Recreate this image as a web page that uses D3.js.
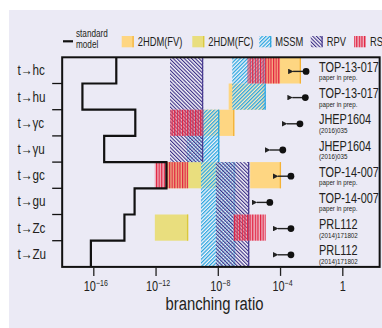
<!DOCTYPE html>
<html>
<head>
<meta charset="utf-8">
<script src="https://cdn.jsdelivr.net/npm/d3@7"></script>
<style>
  html, body { margin: 0; padding: 0; background: #ffffff; }
  svg { display: block; }
  text { font-family: "Liberation Sans", Arial, sans-serif; fill: #231f20; }
</style>
</head>
<body>
<svg id="chart" width="382" height="328"></svg>
<script>
// Top-quark FCNC decay channels
const channels = ["t\u2192hc", "t\u2192hu", "t\u2192\u03b3c", "t\u2192\u03b3u", "t\u2192gc", "t\u2192gu", "t\u2192Zc", "t\u2192Zu"];

// Standard-model branching ratios
const smValues = [3e-15, 2e-17, 5e-14, 5e-16, 5e-12, 4.5e-14, 1e-14, 7e-17];

// Model ranges (low / high edge), null where a model gives no prediction
const fvLow   = [1.2e-5, 5e-8, 1.2e-9, null, 1.2e-6, null, null, null];
const fvHigh  = [2.2e-3, 9e-6, 1.15e-7, null, 1.15e-4, null, null, null];
const fcLow   = [null, null, null, null, 5e-12, null, 9e-13, null];
const fcHigh  = [null, null, null, null, 1.2e-8, null, 1.25e-10, null];
const mssmLow  = [8.5e-8, 8.5e-8, 1e-10, 1e-10, 8.3e-10, 8.3e-10, 8.3e-10, 8.3e-10];
const mssmHigh = [1.2e-5, 1.2e-5, 1.25e-8, 1.25e-8, 1.3e-7, 1.3e-7, 1.3e-7, 1.3e-7];
const rpvLow  = [8.5e-12, 8.5e-12, 8.5e-12, 8.5e-12, 7.6e-9, 7.6e-9, 7.6e-9, 7.6e-9];
const rpvHigh = [1.15e-9, 1.15e-9, 1.15e-9, 1.15e-9, 1.05e-6, 1.05e-6, 1.05e-6, 1.05e-6];
const rsLow   = [8.3e-7, null, 8.5e-12, null, 9e-13, null, 1e-7, null];
const rsHigh  = [1e-4, null, 1.15e-9, null, 1.25e-10, null, 1.2e-5, null];

// Experimental upper limits
const limits = [4.7e-3, 4.2e-3, 1.9e-3, 1.5e-4, 5e-4, 2.2e-5, 5e-4, 5e-4];
const refMain = ["TOP-13-017", "TOP-13-017", "JHEP1604", "JHEP1604", "TOP-14-007", "TOP-14-007", "PRL112", "PRL112"];
const refSub  = ["paper in prep.", "paper in prep.", "(2016)035", "(2016)035", "paper in prep.", "paper in prep.", "(2014)171802", "(2014)171802"];

// Axis ticks and legend
const xTicks = [1e-16, 1e-12, 1e-8, 1e-4, 1];
const legendNames = ["2HDM(FV)", "2HDM(FC)", "MSSM", "RPV", "RS"];

const NARROW = 0.78;   // horizontal squeeze giving a condensed typeface
const svg = d3.select("#chart");

// text in the condensed face, placed at (x, y)
function ntext(parent, x, y, str, size, anchor) {
  return parent.append("text")
    .attr("transform", `translate(${x},${y}) scale(${NARROW},1)`)
    .attr("font-size", size)
    .attr("text-anchor", anchor || "start")
    .text(str);
}

// panel background
svg.append("rect").attr("x", 9).attr("y", 10).attr("width", 373).attr("height", 318).attr("fill", "#ebeaf5");

const x = d3.scaleLog().domain([1e-16, 1]).range([93.3, 342.3]);
const y = d3.scaleBand().domain(channels).range([57.3, 266.9]).paddingInner(0).paddingOuter(0);
const xLeft = x(1e-18), xRight = x(Math.pow(10, 2.4));

// fill patterns
const defs = svg.append("defs");
function stripes(id, color, bg, angle, period, lw) {
  const p = defs.append("pattern").attr("id", id)
    .attr("patternUnits", "userSpaceOnUse")
    .attr("width", period).attr("height", period)
    .attr("patternTransform", `rotate(${angle})`);
  p.append("rect").attr("width", period).attr("height", period).attr("fill", bg);
  p.append("rect").attr("width", lw).attr("height", period).attr("fill", color);
}
stripes("pMSSM", "#26a4e0", "rgba(255,255,255,0.5)", 45, 2.6, 1.25);
stripes("pRPV", "#3b2d86", "rgba(255,255,255,0.45)", -45, 2.6, 1.1);
stripes("pRS", "#e2213f", "rgba(240,110,130,0.45)", 0, 2.6, 1.2);

const models = [
  { lo: fvLow,   hi: fvHigh,   fill: "#fed682", edge: "#f4b236" },
  { lo: fcLow,   hi: fcHigh,   fill: "#e9de7e", edge: "#dac83c" },
  { lo: mssmLow, hi: mssmHigh, fill: "url(#pMSSM)", edge: "#2aa3dc" },
  { lo: rpvLow,  hi: rpvHigh,  fill: "url(#pRPV)", edge: "#4a3d92" },
  { lo: rsLow,   hi: rsHigh,   fill: "url(#pRS)", edge: null }
];

const bars = svg.append("g");
models.forEach(m => {
  const data = channels.map((c, i) => ({ c, lo: m.lo[i], hi: m.hi[i] })).filter(d => d.lo != null);
  const g = bars.append("g");
  g.selectAll("rect").data(data).join("rect")
    .attr("x", d => x(d.lo)).attr("width", d => x(d.hi) - x(d.lo))
    .attr("y", d => y(d.c)).attr("height", y.bandwidth())
    .attr("fill", m.fill);
  if (m.edge) {
    g.selectAll("line").data(data).join("line")
      .attr("x1", d => x(d.hi) - 0.6).attr("x2", d => x(d.hi) - 0.6)
      .attr("y1", d => y(d.c)).attr("y2", d => y(d.c) + y.bandwidth())
      .attr("stroke", m.edge).attr("stroke-width", 1.3);
  }
});

// standard model step line
const smPts = [];
channels.forEach((c, i) => {
  smPts.push([x(smValues[i]), y(c)]);
  smPts.push([x(smValues[i]), y(c) + y.bandwidth()]);
});
svg.append("path").attr("d", d3.line()(smPts))
  .attr("fill", "none").attr("stroke", "#111").attr("stroke-width", 2.2);

// frame
svg.append("rect").attr("x", xLeft).attr("y", 57.3).attr("width", xRight - xLeft).attr("height", 266.9 - 57.3)
  .attr("fill", "none").attr("stroke", "#111").attr("stroke-width", 2);

// row separators on the left
svg.append("g").selectAll("line").data(channels.slice(1)).join("line")
  .attr("x1", xLeft - 10).attr("x2", xLeft)
  .attr("y1", d => y(d)).attr("y2", d => y(d))
  .attr("stroke", "#111").attr("stroke-width", 1.3);

// row labels
const rowLab = svg.append("g");
channels.forEach(c => ntext(rowLab, 17.5, y(c) + y.bandwidth() / 2 + 5, c, 15));

// experimental limits
const lim = svg.append("g");
defs.append("marker").attr("id", "ah").attr("viewBox", "0 0 10 10")
  .attr("refX", 1).attr("refY", 5).attr("markerWidth", 5.5).attr("markerHeight", 5.5)
  .attr("markerUnits", "userSpaceOnUse")
  .attr("orient", "auto-start-reverse")
  .append("path").attr("d", "M0,5 L10,0 L10,10 Z").attr("fill", "#222");
channels.forEach((c, i) => {
  const cy = y(c) + y.bandwidth() / 2 + 1;
  const cx = x(limits[i]);
  lim.append("line").attr("x1", cx).attr("x2", cx - 13).attr("y1", cy).attr("y2", cy)
    .attr("stroke", "#222").attr("stroke-width", 1.4).attr("marker-end", "url(#ah)");
  lim.append("circle").attr("cx", cx).attr("cy", cy).attr("r", 3.4).attr("fill", "#111");
});

// references
const refs = svg.append("g");
channels.forEach((c, i) => {
  const cy = y(c) + y.bandwidth() / 2;
  ntext(refs, 319, cy + 1.5, refMain[i], 14);
  ntext(refs, 319, cy + 10, refSub[i], 8).attr("fill", "#444");
});

// bottom axis
const ax = svg.append("g").attr("transform", "translate(0,266.9)")
  .call(d3.axisBottom(x).tickValues(xTicks).tickSize(9).tickPadding(6).tickFormat(() => ""));
ax.select(".domain").remove();
ax.selectAll(".tick line").attr("stroke", "#222").attr("stroke-width", 1.3);
ax.selectAll(".tick text").each(function (d) {
  const t = d3.select(this).attr("font-size", 14).attr("fill", "#231f20")
    .attr("dy", null).attr("y", null)
    .attr("transform", `translate(${d === 1 ? 0 : 2},24.5) scale(${NARROW},1)`);
  if (d === 1) { t.text("1"); return; }
  const e = Math.round(Math.log10(d));
  t.append("tspan").text("10");
  t.append("tspan").attr("dy", -5).attr("font-size", 9).text("\u2212" + Math.abs(e));
});

ntext(svg, 214.5, 310, "branching ratio", 19, "middle");

// legend
const leg = svg.append("g");
leg.append("line").attr("x1", 63).attr("x2", 73).attr("y1", 41.3).attr("y2", 41.3)
  .attr("stroke", "#111").attr("stroke-width", 2.2);
ntext(leg, 76, 37, "standard", 10.5);
ntext(leg, 76, 47.6, "model", 10.5);
const legX = [121.7, 192.3, 259.3, 310.7, 354];
legendNames.forEach((n, i) => {
  const m = models[i];
  leg.append("rect").attr("x", legX[i]).attr("y", 36).attr("width", 12).attr("height", 11.3).attr("fill", m.fill);
  if (m.edge) leg.append("line").attr("x1", legX[i] + 11.4).attr("x2", legX[i] + 11.4).attr("y1", 36).attr("y2", 47.3)
    .attr("stroke", m.edge).attr("stroke-width", 1.2);
  ntext(leg, legX[i] + 16, 45.6, n, 12);
});
</script>
</body>
</html>
